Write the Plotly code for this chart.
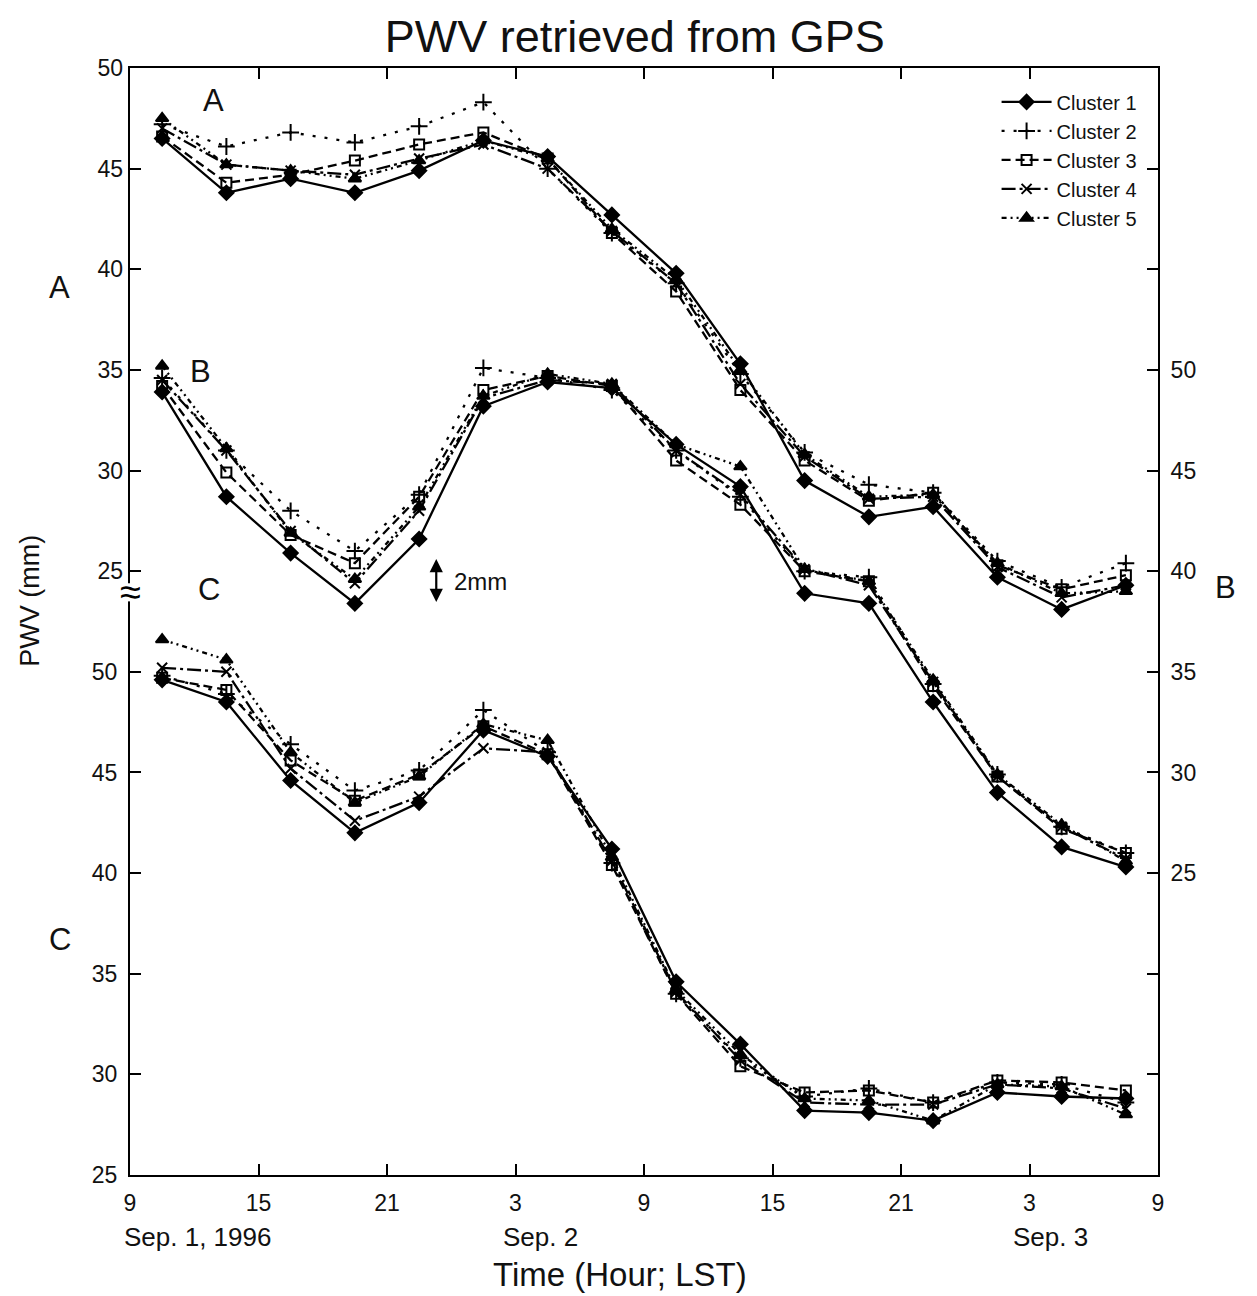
import plotly.graph_objects as go

# Hours after Sep. 1, 1996 09:00 LST
hours = [1.5, 4.5, 7.5, 10.5, 13.5, 16.5, 19.5, 22.5, 25.5, 28.5, 31.5, 34.5, 37.5, 40.5, 43.5, 46.5]

clusters = ["Cluster 1", "Cluster 2", "Cluster 3", "Cluster 4", "Cluster 5"]

# Site A (left axis, upper scale)
site_a = {
    "Cluster 1": [46.5, 43.8, 44.5, 43.8, 44.9, 46.4, 45.6, 42.7, 39.8, 35.3, 29.5, 27.7, 28.2, 24.7, 23.1, 24.3],
    "Cluster 2": [47.2, 46.1, 46.8, 46.3, 47.1, 48.3, 45.0, 41.8, 39.3, 34.8, 30.9, 29.3, 28.9, 25.5, 24.2, 25.4],
    "Cluster 3": [46.6, 44.3, 44.7, 45.4, 46.2, 46.8, 45.5, 41.8, 38.9, 34.0, 30.5, 28.5, 28.9, 25.3, 24.1, 24.8],
    "Cluster 4": [47.0, 45.2, 44.9, 44.7, 45.5, 46.2, 45.0, 41.9, 39.3, 34.3, 30.7, 28.6, 28.7, 25.2, 23.7, 24.3],
    "Cluster 5": [47.5, 45.2, 44.9, 44.5, 45.4, 46.4, 45.5, 42.0, 39.5, 35.0, 30.8, 28.7, 28.8, 25.4, 23.9, 24.0],
}
# Site B (right axis)
site_b = {
    "Cluster 1": [48.9, 43.7, 40.9, 38.4, 41.6, 48.2, 49.4, 49.1, 46.3, 44.2, 38.9, 38.4, 33.5, 29.0, 26.3, 25.3],
    "Cluster 2": [49.6, 46.0, 43.0, 41.0, 43.8, 50.1, 49.6, 49.0, 46.0, 43.7, 40.0, 39.7, 34.4, 29.9, 27.3, 26.0],
    "Cluster 3": [49.2, 44.9, 41.8, 40.4, 43.7, 49.0, 49.7, 49.2, 45.5, 43.3, 40.0, 39.5, 34.3, 29.8, 27.2, 26.0],
    "Cluster 4": [49.5, 46.0, 42.0, 39.4, 43.0, 48.6, 49.5, 49.3, 46.0, 43.8, 40.1, 39.3, 34.5, 29.8, 27.3, 25.7],
    "Cluster 5": [50.2, 46.1, 41.9, 39.6, 43.2, 48.7, 49.8, 49.3, 46.3, 45.2, 40.1, 39.5, 34.6, 29.9, 27.4, 25.6],
}
# Site C (left axis, lower scale)
site_c = {
    "Cluster 1": [49.6, 48.5, 44.6, 42.0, 43.5, 47.1, 45.8, 41.2, 34.6, 31.5, 28.2, 28.1, 27.7, 29.1, 28.9, 28.8],
    "Cluster 2": [49.8, 48.9, 46.4, 44.1, 45.1, 48.1, 46.0, 40.5, 34.0, 30.8, 28.9, 29.3, 28.6, 29.6, 29.5, 28.6],
    "Cluster 3": [49.7, 49.1, 45.6, 43.6, 44.9, 47.3, 45.9, 40.4, 34.0, 30.4, 29.1, 29.2, 28.6, 29.7, 29.6, 29.2],
    "Cluster 4": [50.2, 50.0, 45.2, 42.6, 43.8, 46.2, 46.0, 40.6, 34.1, 30.7, 28.6, 28.5, 28.5, 29.5, 29.3, 28.3],
    "Cluster 5": [51.6, 50.6, 46.0, 43.5, 44.8, 47.4, 46.6, 40.8, 34.2, 31.0, 28.8, 28.7, 27.7, 29.5, 29.4, 28.0],
}

x_tickvals = [0, 6, 12, 18, 24, 30, 36, 42, 48]
x_ticktext = ["9", "15", "21", "3", "9", "15", "21", "3", "9"]
y_tickvals = [25, 30, 35, 40, 45, 50]

styles = {
    "Cluster 1": dict(dash="solid", symbol="diamond", size=11),
    "Cluster 2": dict(dash="3px,9px", symbol="cross-thin", size=12),
    "Cluster 3": dict(dash="9px,5px", symbol="square-open", size=10),
    "Cluster 4": dict(dash="14px,4px,3px,4px", symbol="x-thin", size=10),
    "Cluster 5": dict(dash="5px,4px,2px,4px,2px,4px", symbol="triangle-up", size=11),
}

FONT = "Liberation Sans, Arial, Helvetica, sans-serif"
fig = go.Figure()

for site, axis in [(site_a, "y2"), (site_b, "y3"), (site_c, "y")]:
    for c in clusters:
        st = styles[c]
        fig.add_trace(go.Scatter(
            x=hours, y=site[c], yaxis=axis, name=c, legendgroup=c,
            showlegend=(axis == "y2"),
            mode="lines+markers",
            line=dict(color="black", width=2.3, dash=st["dash"]),
            marker=dict(symbol=st["symbol"], size=st["size"], color="black",
                        line=dict(color="black", width=2)),
        ))

tickfont = dict(family=FONT, size=23, color="#111")
common_y = dict(tickmode="array", tickvals=y_tickvals, ticks="inside", ticklen=11,
                tickcolor="black", tickwidth=1.5, showgrid=False, zeroline=False,
                tickfont=tickfont, ticklabelstandoff=6)

fig.update_layout(
    width=1257, height=1296,
    margin=dict(l=130, r=99, t=68, b=121),
    paper_bgcolor="white", plot_bgcolor="white",
    font=dict(family=FONT, color="black"),
    title=dict(text="PWV retrieved from GPS", x=0.505, xanchor="center",
               yref="container", y=0.972, yanchor="middle",
               font=dict(family=FONT, size=45, color="#111")),
    xaxis=dict(range=[0, 48], tickmode="array", tickvals=x_tickvals, ticktext=x_ticktext,
               ticks="inside", ticklen=11, tickcolor="black", tickwidth=1.5,
               showline=True, linecolor="black", linewidth=2, mirror="ticks",
               showgrid=False, zeroline=False, tickfont=tickfont, ticklabelstandoff=6),
    yaxis=dict(range=[25, 80], side="left", showline=True, linecolor="black",
               linewidth=2, mirror="ticks", **common_y),
    yaxis2=dict(range=[-5, 50], overlaying="y", side="left", showline=False,
                mirror="ticks", **common_y),
    yaxis3=dict(range=[10, 65], overlaying="y", side="right", showline=True,
                linecolor="black", linewidth=2, **common_y),
    legend=dict(x=0.985, y=0.987, xanchor="right", yanchor="top",
                font=dict(family=FONT, size=20, color="#111"),
                bgcolor="rgba(255,255,255,0)", tracegroupgap=0, itemwidth=50),
    showlegend=True,
)

ann = []
lab = dict(size=31, family=FONT, color="#111")
# panel labels near curves
ann.append(dict(x=3.9, y=48.4, xref="x", yref="y2", text="A", showarrow=False, font=lab))
ann.append(dict(x=3.3, y=49.9, xref="x", yref="y3", text="B", showarrow=False, font=lab))
ann.append(dict(x=3.7, y=54.1, xref="x", yref="y", text="C", showarrow=False, font=lab))
# outside labels
ann.append(dict(x=-0.081, y=39.1, xref="paper", yref="y2", text="A", showarrow=False, font=lab))
ann.append(dict(x=1.078, y=39.2, xref="paper", yref="y3", text="B", showarrow=False, font=lab))
ann.append(dict(x=-0.081, y=36.7, xref="paper", yref="y", text="C", showarrow=False, font=lab))
# 2mm scale arrow
ann.append(dict(x=14.3, y=40.6, xref="x", yref="y3", ax=14.3, ay=38.4, axref="x", ayref="y3",
                text="", showarrow=True, arrowhead=2, arrowside="end+start",
                arrowsize=1.2, arrowwidth=2.2, arrowcolor="black"))
ann.append(dict(x=15.05, y=39.5, xref="x", yref="y3", text="2mm", showarrow=False,
                xanchor="left", font=dict(size=24, family=FONT, color="#111")))
# axis break symbol
ann.append(dict(x=0.0, y=53.95, xref="paper", yref="y", text="≈", showarrow=False,
                xanchor="center", font=dict(size=38, family=FONT)))
# date labels
for txt, xp in [("Sep. 1, 1996", 0.066), ("Sep. 2", 0.399), ("Sep. 3", 0.895)]:
    ann.append(dict(x=xp, y=-0.056, xref="paper", yref="paper", text=txt, showarrow=False,
                    xanchor="center", yanchor="middle", font=dict(size=26, family=FONT, color="#111")))
# axis titles
ann.append(dict(x=0.477, y=-0.0903, xref="paper", yref="paper", text="Time (Hour; LST)",
                showarrow=False, xanchor="center", yanchor="middle",
                font=dict(size=33, family=FONT, color="#111")))
ann.append(dict(x=-0.097, y=0.519, xref="paper", yref="paper", text="PWV (mm)",
                showarrow=False, textangle=-90, xanchor="center", yanchor="middle",
                font=dict(size=27, family=FONT, color="#111")))
fig.update_layout(annotations=ann)

# gap in the left axis line for the break
fig.add_shape(type="rect", xref="paper", yref="y", x0=-0.008, x1=0.008, y0=53.5, y1=54.4,
              fillcolor="white", line=dict(width=0), layer="above")

fig.write_html("out.html")
